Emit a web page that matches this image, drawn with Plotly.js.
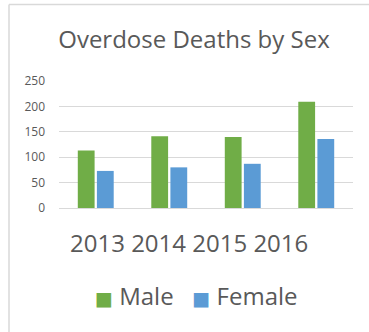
<!DOCTYPE html>
<html>
<head>
<meta charset="utf-8">
<script src="https://cdn.plot.ly/plotly-3.0.1.min.js"></script>
<style>
  html, body { margin: 0; padding: 0; background: #fff; }
  #chart { width: 369px; height: 332px; }
</style>
</head>
<body>
<div id="chart"></div>
<script>
// Overdose deaths by sex, per year
const years = ['2013', '2014', '2015', '2016'];
const male = [113, 141, 140, 209];
const female = [73, 80, 87, 136];
const yTicks = [0, 50, 100, 150, 200, 250];

const textGray = '#595959';
const gridGray = '#D9D9D9';
const font = '"Open Sans", "Noto Sans", sans-serif';

const traces = [
  { type: 'bar', name: 'Male', x: years, y: male,
    marker: { color: '#70AD47' }, hoverinfo: 'none' },
  { type: 'bar', name: 'Female', x: years, y: female,
    marker: { color: '#5B9BD5' }, hoverinfo: 'none' }
];

// plot area in pixels: 59..353 horizontally, 81..208 vertically
const M = { l: 59, r: 16, t: 81, b: 124 };
const W = 369, H = 332;
const plotW = W - M.l - M.r, plotH = H - M.t - M.b;
const px = x => (x - M.l) / plotW;
const py = y => (H - M.b - y) / plotH;

// legend row: coloured square + series name, built from the traces
const legendText = traces.map(t =>
  '<span style="color:' + t.marker.color +
  ';font-family:\'DejaVu Sans\';font-size:19px">■</span> ' + t.name
).join('&nbsp;&nbsp;&nbsp;');

const layout = {
  width: W,
  height: H,
  margin: M,
  paper_bgcolor: '#ffffff',
  plot_bgcolor: '#ffffff',
  font: { family: font, color: textGray },
  title: {
    text: 'Overdose Deaths by Sex',
    font: { family: font, size: 24, color: textGray },
    x: 194 / W, xanchor: 'center',
    y: 1 - 40 / H, yanchor: 'middle'
  },
  barmode: 'group',
  bargap: 0.48,
  bargroupgap: 0.12,
  xaxis: {
    type: 'category',
    showticklabels: false,
    showgrid: false,
    zeroline: false,
    showline: false,
    ticks: ''
  },
  yaxis: {
    range: [0, 250],
    tickvals: yTicks,
    ticktext: yTicks.map(String),
    tickfont: { family: font, size: 12, color: textGray },
    showgrid: true,
    gridcolor: gridGray,
    gridwidth: 1,
    zeroline: true,
    zerolinecolor: gridGray,
    zerolinewidth: 1,
    showline: false,
    ticks: '',
    ticklabelstandoff: 13
  },
  showlegend: false,
  annotations: [
    {
      text: years.join(' '),
      xref: 'paper', yref: 'paper',
      x: px(189), xanchor: 'center',
      y: py(242), yanchor: 'middle',
      showarrow: false,
      font: { family: font, size: 24, color: textGray }
    },
    {
      text: legendText,
      xref: 'paper', yref: 'paper',
      x: px(196.5), xanchor: 'center',
      y: py(295), yanchor: 'middle',
      showarrow: false,
      font: { family: font, size: 24, color: textGray }
    }
  ],
  shapes: [
    { type: 'line', xref: 'paper', yref: 'paper',
      x0: px(9), x1: px(W), y0: py(4.5), y1: py(4.5),
      line: { color: gridGray, width: 1.5 } },
    { type: 'line', xref: 'paper', yref: 'paper',
      x0: px(9), x1: px(9), y0: py(4.5), y1: py(H),
      line: { color: gridGray, width: 1.5 } }
  ]
};

Plotly.newPlot('chart', traces, layout, { displayModeBar: false, staticPlot: true });
</script>
</body>
</html>
